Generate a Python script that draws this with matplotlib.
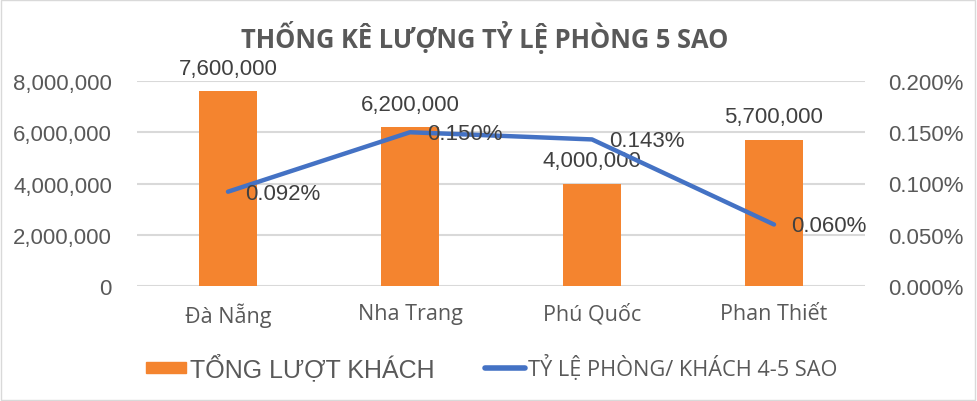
import matplotlib.pyplot as plt
from matplotlib.ticker import FuncFormatter

# data
cities = ['Đà Nẵng', 'Nha Trang', 'Phú Quốc', 'Phan Thiết']
guests = [7600000, 6200000, 4000000, 5700000]
ratio = [0.092, 0.150, 0.143, 0.060]  # percent

bar_color = '#F4842F'
line_color = '#4472C4'
txt = '#595959'
lbl = '#404040'
humanist = ['Open Sans', 'DejaVu Sans']

plt.rcParams['font.family'] = ['Liberation Sans', 'DejaVu Sans']

fig = plt.figure(figsize=(9.77, 4.02), dpi=100)
ax = fig.add_axes([137/977, 1-287/402, (865-137)/977, (287-82)/402])
ax2 = ax.twinx()

x = list(range(len(cities)))
bars = ax.bar(x, guests, width=0.32, color=bar_color, zorder=2)
ax.set_ylim(0, 8000000)
ax.set_xlim(-0.5, 3.5)
ax.set_yticks([0, 2000000, 4000000, 6000000, 8000000])
ax.yaxis.set_major_formatter(FuncFormatter(lambda v, p: f'{int(v):,}'))
ax.grid(axis='y', color='#D9D9D9', linewidth=1.5, zorder=0)
ax.set_axisbelow(True)
ax.set_xticks(x)
ax.set_xticklabels(cities, family=humanist, fontsize=15.5)

for b, v in zip(bars, guests):
    ax.annotate(f'{v:,}', (b.get_x() + b.get_width()/2, v), xytext=(0, 9),
                textcoords='offset points', ha='center', va='bottom',
                fontsize=16, color=lbl)

ax2.plot(x, ratio, color=line_color, linewidth=3.2, solid_capstyle='round', zorder=3)
ax2.set_ylim(0, 0.2)
ax2.set_yticks([0, 0.05, 0.1, 0.15, 0.2])
ax2.yaxis.set_major_formatter(FuncFormatter(lambda v, p: f'{v:.3f}%'))
for xi, v in zip(x, ratio):
    ax2.annotate(f'{v:.3f}%', (xi, v), xytext=(12, -1), textcoords='offset points',
                 ha='left', va='center', fontsize=16, color=lbl)

for a in (ax, ax2):
    for s in a.spines.values():
        s.set_visible(False)
    a.tick_params(length=0, colors=txt)
ax.tick_params(axis='y', pad=18, labelsize=16)
ax.tick_params(axis='x', pad=12)
ax2.tick_params(axis='y', pad=17, labelsize=16)

fig.text(485/977, 1-37/402, 'THỐNG KÊ LƯỢNG TỶ LỆ PHÒNG 5 SAO', ha='center', va='center',
         fontsize=18.4, fontweight='bold', color=txt, family=humanist)

# legend
fig.patches.append(plt.Rectangle((146/977, 1-374/402), 40/977, 11/402,
                                 transform=fig.transFigure, color=bar_color))
fig.text(190/977, 1-368/402, 'TỔNG LƯỢT KHÁCH', ha='left', va='center', fontsize=18, color=txt)
fig.lines.append(plt.Line2D([485/977, 525/977], [1-369/402, 1-369/402], transform=fig.transFigure,
                            color=line_color, linewidth=4, solid_capstyle='round'))
fig.text(528/977, 1-368/402, 'TỶ LỆ PHÒNG/ KHÁCH 4-5 SAO', ha='left', va='center', fontsize=15.7,
         color=txt, family=humanist)

fig.patches.append(plt.Rectangle((0.001, 0.002), 0.997, 0.996, transform=fig.transFigure,
                                 fill=False, edgecolor='#D9D9D9', linewidth=1))

plt.savefig('out.png', dpi=100)
